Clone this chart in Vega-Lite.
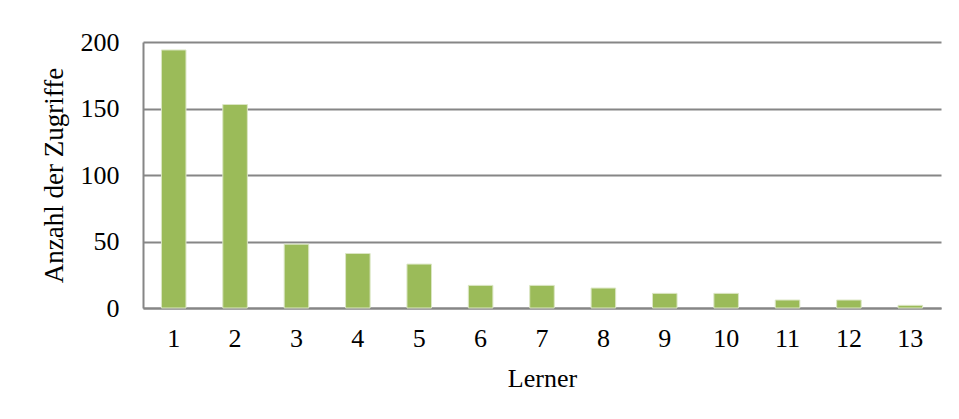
{
  "$schema": "https://vega.github.io/schema/vega-lite/v6.json",
  "autosize": "none",
  "padding": {"left": 143, "top": 42, "right": 18, "bottom": 111},
  "width": 798,
  "height": 266,
  "background": "white",
  "config": {
    "view": {"stroke": null},
    "font": "Liberation Serif"
  },
  "data": {
    "values": [
      {"Lerner": "1", "Zugriffe": 194},
      {"Lerner": "2", "Zugriffe": 153},
      {"Lerner": "3", "Zugriffe": 48},
      {"Lerner": "4", "Zugriffe": 41},
      {"Lerner": "5", "Zugriffe": 33},
      {"Lerner": "6", "Zugriffe": 17},
      {"Lerner": "7", "Zugriffe": 17},
      {"Lerner": "8", "Zugriffe": 15},
      {"Lerner": "9", "Zugriffe": 11},
      {"Lerner": "10", "Zugriffe": 11},
      {"Lerner": "11", "Zugriffe": 6},
      {"Lerner": "12", "Zugriffe": 6},
      {"Lerner": "13", "Zugriffe": 2}
    ]
  },
  "mark": {"type": "bar", "color": "#9BBB59", "stroke": "#dbe6c4", "strokeWidth": 1},
  "encoding": {
    "x": {
      "field": "Lerner",
      "type": "ordinal",
      "sort": null,
      "scale": {"paddingInner": 0.6, "paddingOuter": 0.3},
      "axis": {
        "title": "Lerner",
        "labelAngle": 0,
        "labelFont": "Liberation Serif",
        "labelFontSize": 26,
        "labelColor": "#000000",
        "labelPadding": 17,
        "ticks": false,
        "domainColor": "#868686",
        "domainWidth": 2,
        "titleFont": "Liberation Serif",
        "titleFontSize": 26,
        "titleFontWeight": "normal",
        "titleColor": "#000000",
        "titlePadding": 14
      }
    },
    "y": {
      "field": "Zugriffe",
      "type": "quantitative",
      "scale": {"domain": [0, 200], "nice": false},
      "axis": {
        "title": "Anzahl der Zugriffe",
        "values": [0, 50, 100, 150, 200],
        "labelFont": "Liberation Serif",
        "labelFontSize": 26,
        "labelColor": "#000000",
        "labelPadding": 24,
        "ticks": false,
        "domainColor": "#868686",
        "domainWidth": 2,
        "grid": true,
        "gridColor": "#868686",
        "gridWidth": 2,
        "titleFont": "Liberation Serif",
        "titleFontSize": 27,
        "titleFontWeight": "normal",
        "titleColor": "#000000",
        "titlePadding": 12
      }
    }
  }
}
